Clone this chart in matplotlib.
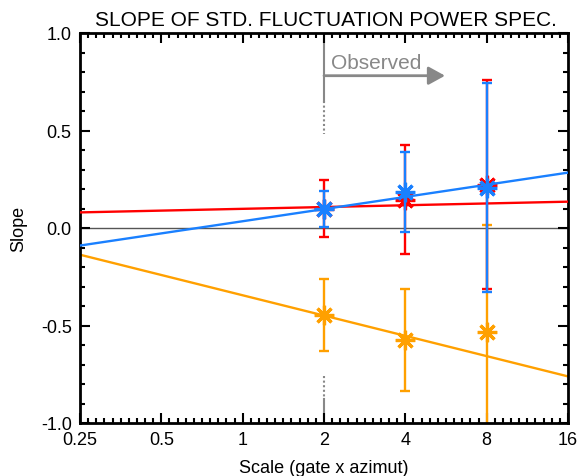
import matplotlib
matplotlib.use('Agg')
import matplotlib.pyplot as plt
from matplotlib.ticker import FixedLocator, NullFormatter
import numpy as np

plt.rcParams['font.family'] = ['Liberation Sans', 'DejaVu Sans']

# data
scales = [2, 4, 8]
red_y = [0.10, 0.145, 0.222]
red_err = [0.145, 0.28, 0.535]
blue_y = [0.096, 0.184, 0.206]
blue_err = [0.092, 0.206, 0.536]
orange_y = [-0.446, -0.576, -0.535]
orange_err = [0.183, 0.262, 0.549]

# fitted lines, values at x = 0.25 and x = 16
fit_x = [0.25, 16]
red_fit = [0.080, 0.135]
blue_fit = [-0.090, 0.284]
orange_fit = [-0.137, -0.761]

x_ticks = [0.25, 0.5, 1, 2, 4, 8, 16]
x_labels = ['0.25', '0.5', '1', '2', '4', '8', '16']
y_ticks = [-1.0, -0.5, 0.0, 0.5, 1.0]
y_labels = ['-1.0', '-0.5', '0.0', '0.5', '1.0']

RED = '#ff0000'
BLUE = '#1a80ff'
ORANGE = '#ffa000'
GRAY = '#888888'

fig = plt.figure(figsize=(5.8, 4.77), dpi=100)
ax = fig.add_axes([80 / 580, 1 - 424 / 477, 488 / 580, 390 / 477])
ax.set_xscale('log', base=2)
ax.set_xlim(0.25, 16)
ax.set_ylim(-1.0, 1.0)

# zero line
ax.plot(fit_x, [0, 0], color='#555555', lw=1.0, zorder=1)

# observed marker line at x=2
ax.plot([2, 2], [1.0, 0.653], color=GRAY, lw=1.5, zorder=1)
ax.plot([2, 2], [0.653, 0.482], color=GRAY, lw=1.5, ls=(0, (1, 1.2)), zorder=1)
ax.plot([2, 2], [-0.757, -0.877], color=GRAY, lw=1.5, ls=(0, (1, 1.2)), zorder=1)
ax.plot([2, 2], [-0.877, -1.0], color=GRAY, lw=1.5, zorder=1)
ax.annotate('', xy=(5.61, 0.781), xytext=(2, 0.781),
            arrowprops=dict(arrowstyle='-|>,head_length=1.0,head_width=0.55',
                            color=GRAY, lw=2, shrinkA=0, shrinkB=0))
ax.text(2.12, 0.82, 'Observed', color=GRAY, fontsize=15, va='baseline', ha='left')

mk = (8, 2, 0)
for y, err, fit, c, z in [(orange_y, orange_err, orange_fit, ORANGE, 2),
                          (red_y, red_err, red_fit, RED, 3),
                          (blue_y, blue_err, blue_fit, BLUE, 4)]:
    ax.plot(fit_x, fit, color=c, lw=1.7, zorder=z)
    ax.errorbar(scales, y, yerr=err, fmt='none', ecolor=c, elinewidth=1.7,
                capsize=3.6, capthick=1.7, zorder=z)
    ax.plot(scales, y, ls='none', marker=mk, ms=14, mew=2.3, color=c, zorder=z)

# axes styling
for s in ax.spines.values():
    s.set_linewidth(2)
ax.xaxis.set_major_locator(FixedLocator(x_ticks))
ax.set_xticklabels(x_labels)
ax.xaxis.set_minor_locator(FixedLocator([2 ** (k / 10) for k in range(-20, 41) if k % 10]))
ax.xaxis.set_minor_formatter(NullFormatter())
ax.set_yticks(y_ticks)
ax.set_yticklabels(y_labels)
ax.yaxis.set_minor_locator(FixedLocator(np.round(np.arange(-1.0, 1.01, 0.1), 2)))
ax.tick_params(which='both', direction='in', top=True, right=True, labelsize=13,
               width=1.5, colors='black')
ax.tick_params(which='major', length=7, pad=6)
ax.tick_params(which='minor', length=3.5)

ax.set_xlabel('Scale (gate x azimut)', fontsize=13, labelpad=8)
ax.set_ylabel('Slope', fontsize=13, labelpad=10)
fig.text(326 / 580, 1 - 20 / 477, 'SLOPE OF STD. FLUCTUATION POWER SPEC.',
         fontsize=15, ha='center', va='center')

fig.savefig('out.png', dpi=100)
